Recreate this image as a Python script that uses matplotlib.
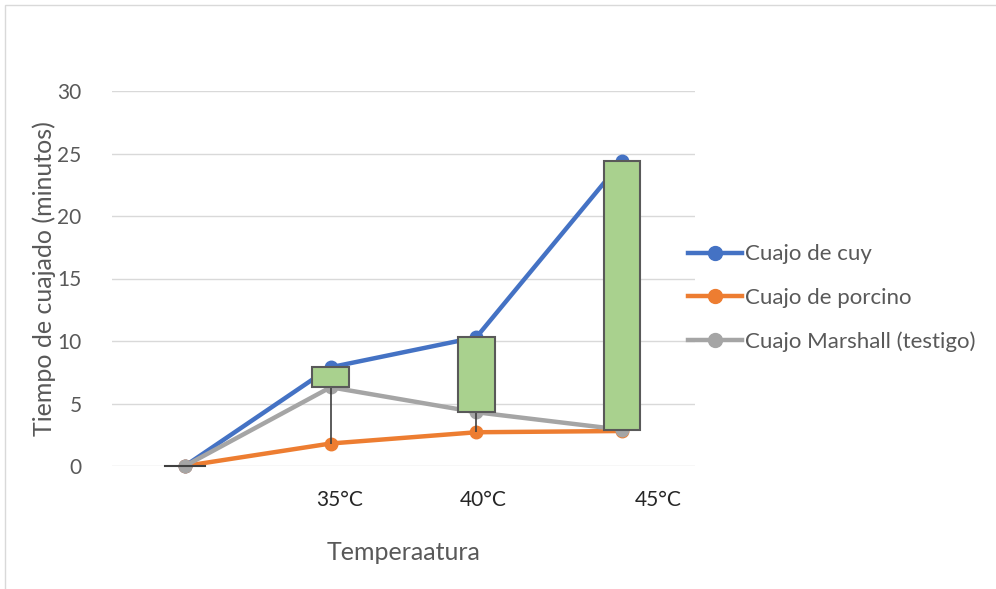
import matplotlib.pyplot as plt
from matplotlib.patches import Rectangle
from matplotlib.lines import Line2D

plt.rcParams['font.family'] = ['Lato', 'DejaVu Sans']

categorias = ["", "35°C", "40°C", "45°C"]
cuy = [0.0, 7.9, 10.3, 24.4]
porcino = [0.0, 1.8, 2.7, 2.8]
marshall = [0.0, 6.3, 4.3, 2.9]
nombres = ["Cuajo de cuy", "Cuajo de porcino", "Cuajo Marshall (testigo)"]
colores = ["#4472C4", "#ED7D31", "#A5A5A5"]
# label positions in the original are shifted to the right of the points
pos_etiquetas = [0.5, 1.56, 2.55, 3.75]

fig = plt.figure(figsize=(9.96, 5.89), dpi=100)
fig.patches.append(Rectangle((5 / 996, -0.1), 1.1, 1.1 - 5 / 589,
                             transform=fig.transFigure, fill=False,
                             edgecolor="#D9D9D9", linewidth=1))
ax = fig.add_axes([112 / 996, (589 - 466) / 589, 583 / 996, 375 / 589])

x = [i + 0.5 for i in range(len(categorias))]

for s, c, n in zip([cuy, porcino, marshall], colores, nombres):
    ax.plot(x, s, color=c, linewidth=3.2, marker="o", markersize=9,
            label=n, clip_on=False, zorder=3)

# high-low lines
for xi, a, b, m in zip(x, cuy, porcino, marshall):
    ax.plot([xi, xi], [min(a, b, m), max(a, b, m)], color="#404040",
            linewidth=1.2, zorder=4, solid_capstyle="butt")

# up/down bars (first series to last series)
ancho = 0.25
for xi, a, m in zip(x, cuy, marshall):
    lo, hi = min(a, m), max(a, m)
    if hi - lo < 1e-9:
        ax.plot([xi - ancho / 2 - 0.01, xi + ancho / 2 + 0.01], [lo, lo],
                color="#404040", linewidth=1.5, zorder=5, clip_on=False)
    else:
        ax.add_patch(Rectangle((xi - ancho / 2, lo), ancho, hi - lo,
                               facecolor="#A9D18E", edgecolor="#595959",
                               linewidth=1.5, zorder=5))

ax.set_xlim(0, 4)
ax.set_ylim(0, 30)
ax.set_yticks(range(0, 31, 5))
ax.yaxis.grid(True, color="#D9D9D9", linewidth=1)
ax.set_axisbelow(True)
for sp in ax.spines.values():
    sp.set_visible(False)
ax.tick_params(axis="y", length=0, pad=22, labelsize=15, labelcolor="#595959")
ax.set_xticks([])
for p, t in zip(pos_etiquetas, categorias):
    ax.text(p, -2.7, t, ha="center", va="center", fontsize=15, color="#262626")

ax.set_ylabel("Tiempo de cuajado (minutos)", fontsize=18, color="#595959",
              labelpad=1)
ax.text(2.0, -6.9, "Temperaatura", ha="center", va="center", fontsize=18,
        color="#595959")

handles = [Line2D([0], [0], color=c, linewidth=3.2, marker="o", markersize=10)
           for c in colores]
leg = ax.legend(handles, nombres, loc="center left", bbox_to_anchor=(0.988, 0.448),
                frameon=False, fontsize=16, handlelength=2.45, handletextpad=0.12,
                labelspacing=1.05, borderpad=0, borderaxespad=0,
                labelcolor="#595959")

fig.savefig("out.png", dpi=100)
